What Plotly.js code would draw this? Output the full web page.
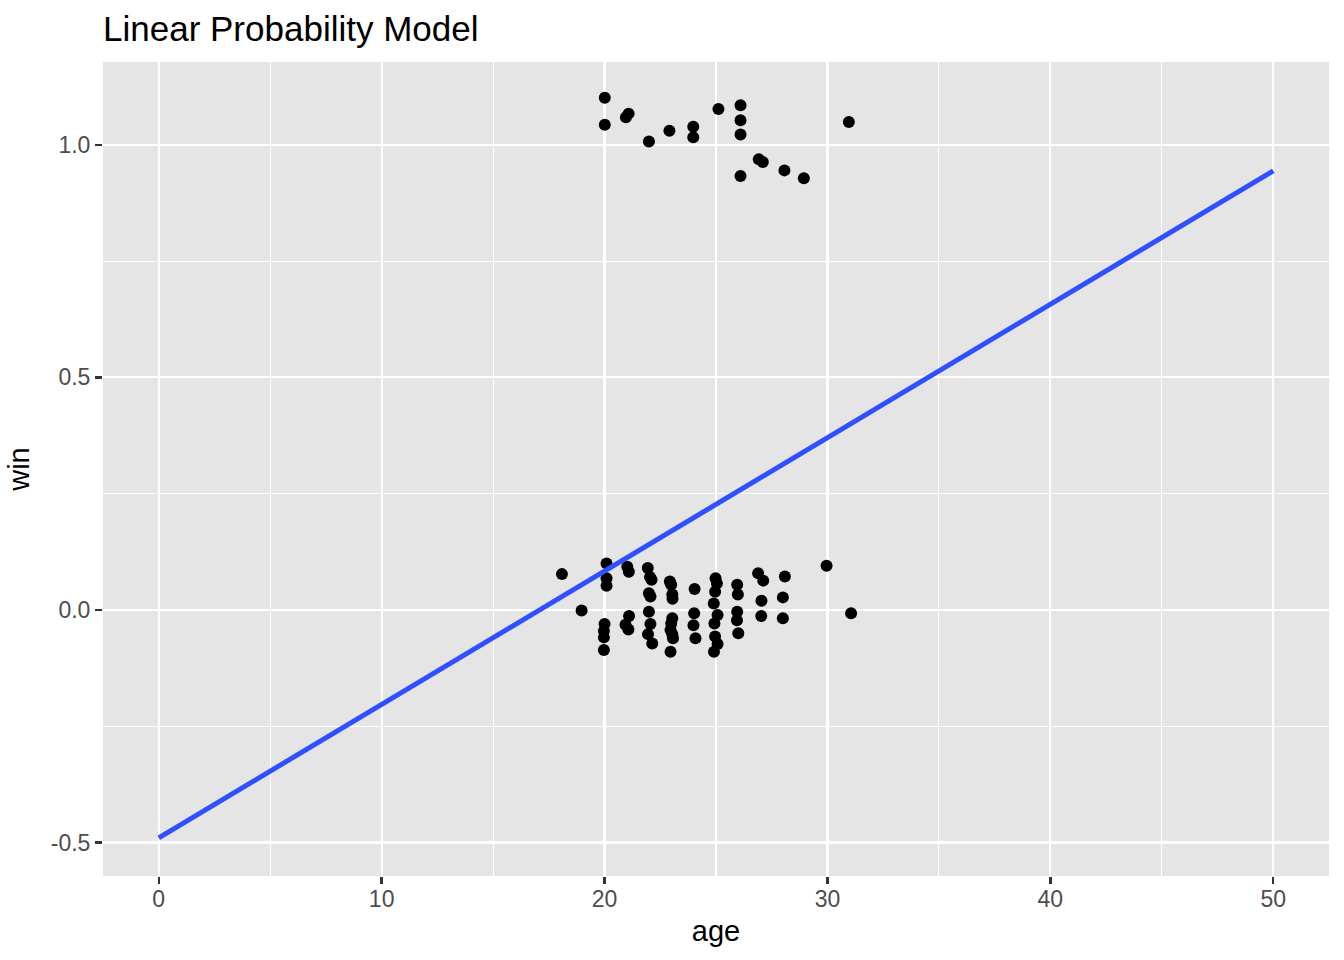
<!DOCTYPE html>
<html>
<head>
<meta charset="utf-8">
<script src="https://cdn.plot.ly/plotly-3.0.1.min.js"></script>
<style>html,body{margin:0;padding:0;background:#fff;}#chart{width:1344px;height:960px;}</style>
</head>
<body>
<div id="chart"></div>
<script>
// Jittered observations (age, win) as plotted
const ageTop = [20.01, 20.01, 20.96, 21.08, 21.99, 22.91, 23.98, 23.98, 25.11, 26.10, 26.10, 26.10, 26.10, 26.92, 27.10, 28.07, 28.94, 30.96];
const winTop = [1.101, 1.043, 1.059, 1.067, 1.007, 1.030, 1.039, 1.016, 1.077, 1.085, 1.053, 1.022, 0.933, 0.969, 0.963, 0.945, 0.928, 1.049];

const ageBottom = [
  18.09, 18.97,
  20.09, 20.09, 20.09, 20.00, 19.97, 19.97, 19.97,
  21.02, 21.09, 21.10, 20.94, 21.07,
  21.94, 22.04, 22.11, 21.99, 22.06, 21.99, 22.06, 21.95, 22.14,
  22.93, 22.99, 23.04, 23.05, 23.04, 22.99, 22.96, 23.04, 23.07, 22.96,
  24.04, 24.02, 23.99, 24.08,
  24.98, 25.04, 24.96, 24.90, 25.07, 24.93, 24.96, 25.07, 24.91,
  25.95, 25.98, 25.95, 25.94, 26.00,
  26.89, 27.12, 27.04, 27.03,
  28.09, 28.00, 28.00,
  29.96, 31.06
];
const winBottom = [
  0.077, -0.001,
  0.100, 0.068, 0.052, -0.030, -0.045, -0.059, -0.086,
  0.093, 0.082, -0.013, -0.032, -0.042,
  0.090, 0.071, 0.065, 0.036, 0.029, -0.004, -0.030, -0.052, -0.072,
  0.061, 0.054, 0.033, 0.024, -0.018, -0.029, -0.043, -0.052, -0.061, -0.090,
  0.045, -0.007, -0.033, -0.061,
  0.068, 0.057, 0.039, 0.014, -0.011, -0.029, -0.057, -0.073, -0.090,
  0.054, 0.033, -0.004, -0.022, -0.050,
  0.079, 0.063, 0.020, -0.013,
  0.072, 0.027, -0.018,
  0.095, -0.007
];

// Fitted linear probability model line
const fitAge = [0, 50];
const fitWin = [-0.490, 0.944];

// Tick labels
const xTickVals = [0, 10, 20, 30, 40, 50];
const xTickText = ['0', '10', '20', '30', '40', '50'];
const xMinorVals = [5, 15, 25, 35, 45];
const yTickVals = [-0.5, 0, 0.5, 1.0];
const yTickText = ['-0.5', '0.0', '0.5', '1.0'];
const yMinorVals = [-0.25, 0.25, 0.75];

const FONT = 'Liberation Sans, Arial, Helvetica, sans-serif';

const traces = [
  {
    x: ageTop.concat(ageBottom),
    y: winTop.concat(winBottom),
    type: 'scatter', mode: 'markers',
    marker: {color: '#000000', size: 12, line: {width: 0}},
    hoverinfo: 'skip', showlegend: false
  },
  {
    x: fitAge, y: fitWin,
    type: 'scatter', mode: 'lines',
    line: {color: '#3050FF', width: 5},
    hoverinfo: 'skip', showlegend: false
  }
];

const axisCommon = {
  showline: false, zeroline: false,
  showgrid: true, gridcolor: '#FFFFFF', gridwidth: 2.1,
  ticks: 'outside', ticklen: 7, tickwidth: 2.4, tickcolor: '#333333',
  tickfont: {family: FONT, size: 23, color: '#4D4D4D'},
  fixedrange: true
};

const layout = {
  width: 1344, height: 960,
  margin: {l: 103, r: 15, t: 62, b: 84, pad: 0},
  paper_bgcolor: '#FFFFFF',
  plot_bgcolor: '#E5E5E5',
  showlegend: false,
  title: {
    text: 'Linear Probability Model',
    font: {family: FONT, size: 35, color: '#000000'},
    x: 103 / 1344, xanchor: 'left', xref: 'container',
    y: 1 - 29 / 960, yanchor: 'middle', yref: 'container'
  },
  xaxis: Object.assign({}, axisCommon, {
    range: [-2.5, 52.5],
    tickmode: 'array', tickvals: xTickVals, ticktext: xTickText,
    ticklabelstandoff: -5,
    minor: {tickmode: 'array', tickvals: xMinorVals, showgrid: true, gridcolor: '#FFFFFF', gridwidth: 1.1, ticks: ''},
    title: {text: 'age', font: {family: FONT, size: 29, color: '#000000'}, standoff: 10}
  }),
  yaxis: Object.assign({}, axisCommon, {
    range: [-0.572, 1.178],
    tickmode: 'array', tickvals: yTickVals, ticktext: yTickText,
    minor: {tickmode: 'array', tickvals: yMinorVals, showgrid: true, gridcolor: '#FFFFFF', gridwidth: 1.1, ticks: ''},
    title: {text: 'win', font: {family: FONT, size: 29, color: '#000000'}, standoff: 12}
  })
};

Plotly.newPlot('chart', traces, layout, {displayModeBar: false, staticPlot: true});
</script>
</body>
</html>
